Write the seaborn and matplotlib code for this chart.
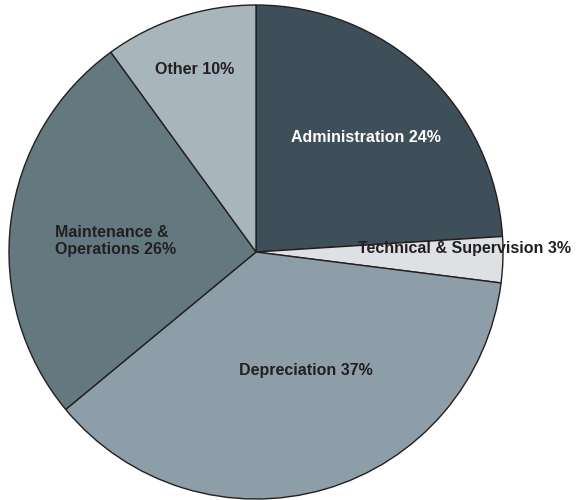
import numpy as np
import matplotlib.pyplot as plt
import seaborn as sns

labels = ["Administration", "Technical & Supervision", "Depreciation",
          "Maintenance &\nOperations", "Other"]
shares = [24, 3, 37, 26, 10]
colors = ["#3e4f59", "#dde1e4", "#8d9ea8", "#647880", "#a8b5bc"]

sns.set_theme(style="white")
plt.rcParams['font.family'] = ['Liberation Sans', 'DejaVu Sans']

fig = plt.figure(figsize=(5.83, 5.0), dpi=100)
ax = fig.add_axes([0, 0, 1, 1])

wedges, _ = ax.pie(shares, colors=colors, startangle=90, counterclock=False,
                   center=(256, 248), radius=247,
                   wedgeprops=dict(edgecolor="#231f20", linewidth=1.0))

# pie() resets the limits, so set them afterwards
ax.set_xlim(0, 583)
ax.set_ylim(0, 500)
ax.set_aspect('equal')
ax.axis('off')

# label positions (pixels, y up)
pos = [(366, 363, 'center', 'white'),
       (465, 251, 'center', '#231f20'),
       (306, 129, 'center', '#231f20'),
       (55, 259, 'left', '#231f20'),
       (195, 430, 'center', '#231f20')]
for lab, s, (x, y, ha, c) in zip(labels, shares, pos):
    ax.text(x, y, f"{lab} {s}%", ha=ha, va='center', color=c,
            fontsize=11.5, fontweight='bold', linespacing=1.2)

fig.savefig("out.png", dpi=100)
